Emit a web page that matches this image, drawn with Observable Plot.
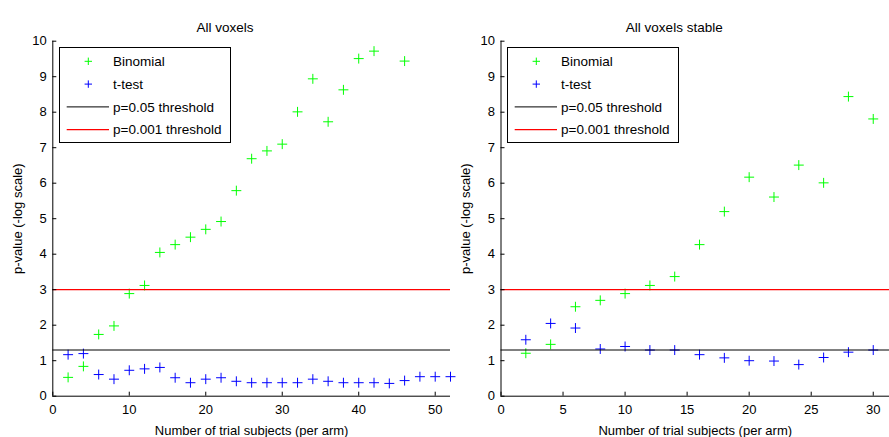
<!DOCTYPE html>
<html>
<head>
<meta charset="utf-8">
<script src="https://cdn.jsdelivr.net/npm/d3@7"></script>
<script src="https://cdn.jsdelivr.net/npm/@observablehq/plot@0.6"></script>
<style>
  html, body { margin: 0; padding: 0; background: #fff; }
  body { font-family: "Liberation Sans", Arial, Helvetica, sans-serif; }
  #wrap { position: relative; width: 889px; height: 437px; display: flex; overflow: hidden; }
  #wrap > svg, #wrap > figure { flex: none; margin: 0; }
  .legend { position: absolute; box-sizing: border-box; width: 172px; height: 96px; border: 1px solid #000; background: #fff; }
  .legend svg { display: block; }
</style>
</head>
<body>
<div id="wrap"></div>
<script>
// ---- Data ----
const panelTitles = ["All voxels", "All voxels stable"];
const xLabel = "Number of trial subjects (per arm)";
const yLabel = "p-value (-log scale)";

// Left panel: All voxels
const binomialAllN = [2, 4, 6, 8, 10, 12, 14, 16, 18, 20, 22, 24, 26, 28, 30, 32, 34, 36, 38, 40, 42, 46];
const binomialAll  = [0.53, 0.84, 1.74, 1.98, 2.89, 3.12, 4.05, 4.27, 4.48, 4.70, 4.92, 5.79, 6.69, 6.91, 7.10, 8.01, 8.94, 7.73, 8.63, 9.51, 9.72, 9.44];
const ttestAllN = [2, 4, 6, 8, 10, 12, 14, 16, 18, 20, 22, 24, 26, 28, 30, 32, 34, 36, 38, 40, 42, 44, 46, 48, 50, 52];
const ttestAll  = [1.17, 1.20, 0.61, 0.48, 0.73, 0.77, 0.81, 0.52, 0.38, 0.48, 0.52, 0.42, 0.38, 0.38, 0.38, 0.38, 0.48, 0.42, 0.38, 0.38, 0.38, 0.36, 0.44, 0.55, 0.55, 0.55];

// Right panel: All voxels stable
const stableN = [2, 4, 6, 8, 10, 12, 14, 16, 18, 20, 22, 24, 26, 28, 30];
const binomialStable = [1.21, 1.46, 2.52, 2.70, 2.89, 3.12, 3.37, 4.27, 5.20, 6.17, 5.61, 6.51, 6.01, 8.44, 7.81];
const ttestStable    = [1.59, 2.05, 1.92, 1.33, 1.40, 1.30, 1.30, 1.17, 1.08, 1.00, 0.99, 0.89, 1.09, 1.24, 1.30];

// Thresholds (-log10 p)
const thresholdLabels = ["p=0.05 threshold", "p=0.001 threshold"];
const thresholdValues = [1.301, 3];

// Series labels
const seriesLabels = ["Binomial", "t-test"];

// Tick values
const xTicksLeft = [0, 10, 20, 30, 40, 50];
const xTicksRight = [0, 5, 10, 15, 20, 25, 30];
const yTicks = [0, 1, 2, 3, 4, 5, 6, 7, 8, 9, 10];

// ---- Styles ----
const GREEN = "#00ff00", BLUE = "#0000ff";
const thresholdColors = ["#000000", "#ff0000"];
const thresholdWidths = [1, 1.2];
const FONT = "Liberation Sans, Arial, Helvetica, sans-serif";

function panel({title, titleDx, xDomain, xTicks, width, marginLeft, marginRight, binN, bin, ttN, tt}) {
  const binData = binN.map((n, i) => ({n, v: bin[i]}));
  const ttData = ttN.map((n, i) => ({n, v: tt[i]}));
  return Plot.plot({
    width, height: 437,
    marginTop: 40.7, marginBottom: 41.3, marginLeft, marginRight,
    style: {fontFamily: FONT, fontSize: "13px", color: "#000", background: "transparent", overflow: "visible"},
    x: {domain: xDomain},
    y: {domain: [0, 10]},
    marks: [
      Plot.dot(binData, {x: "n", y: "v", symbol: "plus", r: 3.3, stroke: GREEN, strokeWidth: 1}),
      Plot.dot(ttData, {x: "n", y: "v", symbol: "plus", r: 3.3, stroke: BLUE, strokeWidth: 1}),
      Plot.ruleY([thresholdValues[0]], {stroke: thresholdColors[0], strokeWidth: thresholdWidths[0]}),
      Plot.ruleY([thresholdValues[1]], {stroke: thresholdColors[1], strokeWidth: thresholdWidths[1]}),
      Plot.ruleX([0], {stroke: "#000", strokeWidth: 1}),
      Plot.ruleY([0], {stroke: "#000", strokeWidth: 1}),
      Plot.axisX({ticks: xTicks, tickSize: -4, tickPadding: 13, tickFormat: d => String(d),
                  label: xLabel, labelAnchor: "center", labelOffset: 38.5, labelArrow: "none"}),
      Plot.axisY({ticks: yTicks, tickSize: -4, tickPadding: 10, tickFormat: d => String(d),
                  label: yLabel, labelAnchor: "center", labelOffset: 40, labelArrow: "none"}),
      Plot.text([title], {frameAnchor: "top", dy: -18.3, dx: titleDx, fontSize: 13.5, fill: "#000"})
    ]
  });
}

const wrap = document.getElementById("wrap");
wrap.appendChild(panel({
  title: panelTitles[0], titleDx: -26.6, xDomain: [0, 52], xTicks: xTicksLeft,
  width: 455, marginLeft: 52.3, marginRight: 5,
  binN: binomialAllN, bin: binomialAll, ttN: ttestAllN, tt: ttestAll
}));
wrap.appendChild(panel({
  title: panelTitles[1], titleDx: -21, xDomain: [0, 31.31], xTicks: xTicksRight,
  width: 434, marginLeft: 45.5, marginRight: 0,
  binN: stableN, bin: binomialStable, ttN: stableN, tt: ttestStable
}));

// ---- Legends (MATLAB-style boxed legend) ----
function legend(left, top) {
  const div = document.createElement("div");
  div.className = "legend";
  div.style.left = left + "px";
  div.style.top = top + "px";
  const svg = d3.create("svg").attr("width", 170).attr("height", 94)
    .style("font-family", FONT).style("font-size", "13.5px");
  const rows = [
    {kind: "marker", color: GREEN, label: seriesLabels[0]},
    {kind: "marker", color: BLUE, label: seriesLabels[1]},
    {kind: "line", color: thresholdColors[0], width: thresholdWidths[0], label: thresholdLabels[0]},
    {kind: "line", color: thresholdColors[1], width: thresholdWidths[1], label: thresholdLabels[1]}
  ];
  rows.forEach((r, i) => {
    const y = 13.3 + i * 22.8;
    if (r.kind === "marker") {
      svg.append("path").attr("d", `M${28.3 - 3.7},${y}h7.4M28.3,${y - 3.7}v7.4`)
        .attr("stroke", r.color).attr("fill", "none");
    } else {
      svg.append("line").attr("x1", 6.7).attr("x2", 49).attr("y1", y).attr("y2", y)
        .attr("stroke", r.color).attr("stroke-width", r.width);
    }
    svg.append("text").attr("x", 53).attr("y", y).attr("dy", "0.35em").attr("fill", "#000").text(r.label);
  });
  div.appendChild(svg.node());
  wrap.appendChild(div);
}
legend(59, 46.7);
legend(506.7, 47);
</script>
</body>
</html>
